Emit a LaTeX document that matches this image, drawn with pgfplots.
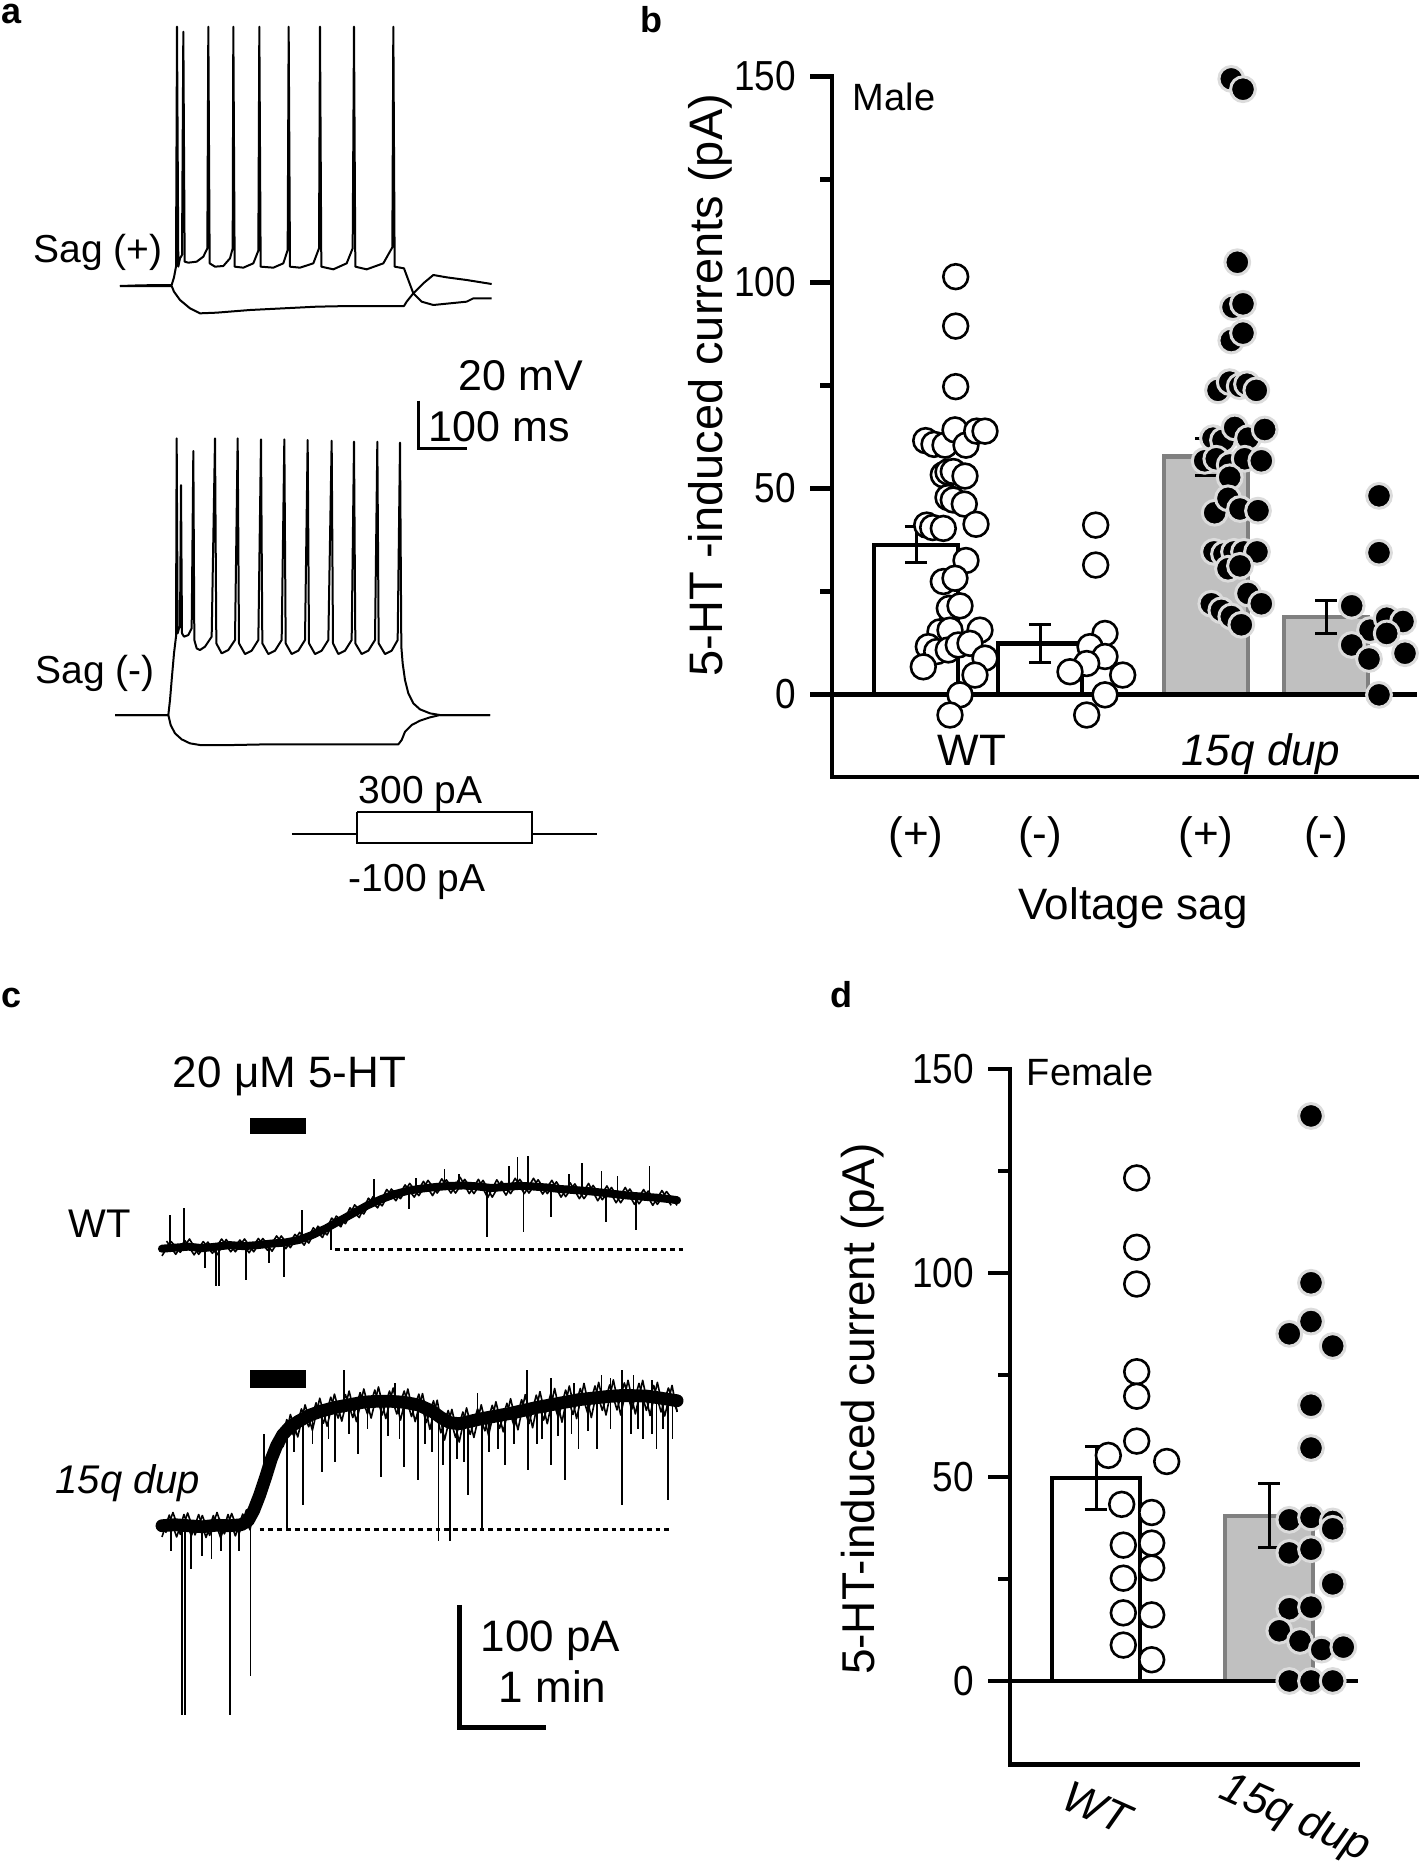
\documentclass[border=0pt]{standalone}
\usepackage{fontspec}
\setmainfont{Liberation Sans}
\usepackage{pgfplots}
\pgfplotsset{compat=1.18}
\definecolor{barg}{HTML}{C0C0C0}
\definecolor{bard}{HTML}{808080}
\definecolor{ring}{HTML}{DCDCDC}
\newcommand{\fsz}[1]{\fontsize{#1}{#1}\selectfont}
\pgfplotsset{
  hid/.style={hide axis, scale only axis, clip=false, y dir=reverse, anchor=north west},
  tr/.style={black, line width=0.5pt, line join=round, mark=none},
  spk/.style={black, line width=0.45pt, mark=none, unbounded coords=jump},
  fuzz/.style={black, line width=0.4pt, mark=none, line join=round},
  dataaxis/.style={scale only axis, clip=false, anchor=south west,
     axis x line*=bottom, axis y line*=left,
     axis line style={line width=1.1pt, line cap=rect},
     xtick=\empty, ytick={0,50,100,150}, minor ytick={25,75,125},
     tick align=outside, major tick length=5.5pt, minor tick length=3pt,
     tick style={black, line width=1.1pt},
     yticklabel style={font=\fsz{10.5}},
     yticklabel={\scalebox{0.88}[1]{\pgfmathprintnumber{\tick}}},
     /pgf/number format/assume math mode=true},
  wtbar/.style={ybar, bar width=84, bar shift=0pt, fill=white, draw=black, line width=1.1pt},
  dupbar/.style={ybar, bar width=84, bar shift=0pt, fill=barg, draw=bard, line width=1.1pt},
  ebar/.style={forget plot, mark=none, draw=none, error bars/.cd, y dir=both, y explicit,
     error bar style={draw=black, line width=0.75pt},
     error mark options={rotate=90, draw=black, mark size=2.75pt, line width=0.75pt}},
  opendot/.style={only marks, mark=*, mark size=3.1pt, mark options={fill=white, draw=black, line width=0.65pt}},
  filldot/.style={only marks, mark=*, mark size=3.1pt, mark options={fill=black, draw=ring, line width=0.75pt}},
}
\begin{document}
\begin{tikzpicture}
\path[use as bounding box] (0pt,0pt) rectangle (354.75pt,-466.75pt);

% ---------------- panel a, Sag(+)
\begin{axis}[hid, at={(0pt,0pt)}, width=130pt, height=82.5pt, xmin=0, xmax=1560, ymin=0, ymax=990]
\addplot[tr] coordinates {(360,858) (420,856) (500,855) (515,855) (522,832) (528,800) (531,80) (535,800) (540,775) (546,765) (550,95) (554,785) (565,788) (590,785) (610,770) (622,745) (625,80) (629,790) (645,800) (670,798) (690,775) (698,745) (700,80) (704,800) (730,803) (760,790) (775,752) (778,80) (782,800) (820,803) (850,790) (863,750) (866,80) (870,800) (900,803) (940,790) (957,745) (960,80) (964,800) (1000,808) (1040,790) (1058,745) (1062,80) (1066,800) (1100,808) (1150,790) (1177,742) (1180,80) (1184,800) (1212,805) (1225,840) (1240,880) (1265,905) (1300,915) (1350,910) (1400,905) (1420,895) (1475,895)};
\addplot[tr] coordinates {(360,858) (515,858) (522,875) (540,900) (570,925) (600,940) (650,938) (750,930) (850,925) (950,920) (1050,918) (1150,918) (1212,918) (1220,905) (1240,880) (1270,850) (1300,825) (1340,832) (1400,840) (1475,852)};
\end{axis}

% ---------------- panel a, Sag(-)
\begin{axis}[hid, at={(0pt,-95pt)}, width=130pt, height=105pt, xmin=0, xmax=1560, ymin=0, ymax=1260]
\addplot[tr] coordinates {(345,1005) (505,1005) (510,960) (515,900) (522,820) (528,770) (530,175) (533,760) (537,745) (540,740) (543,315) (546,760) (552,770) (565,765) (575,745) (580,213) (583,780) (590,805) (600,810) (615,800) (635,770) (645,175) (649,790) (665,820) (685,810) (705,780) (713,175) (717,790) (735,822) (755,812) (775,780) (783,178) (787,790) (805,822) (825,812) (845,780) (853,178) (857,790) (875,822) (895,812) (915,780) (923,180) (927,790) (945,822) (965,812) (985,780) (995,182) (999,790) (1015,822) (1035,812) (1055,780) (1062,185) (1066,790) (1085,822) (1105,812) (1125,780) (1132,185) (1136,790) (1155,822) (1175,812) (1193,780) (1200,188) (1204,800) (1208,850) (1215,900) (1225,940) (1240,970) (1260,988) (1290,1000) (1320,1005) (1470,1005)};
\addplot[tr] coordinates {(345,1005) (505,1005) (512,1035) (525,1060) (545,1078) (570,1090) (600,1095) (700,1095) (800,1093) (900,1093) (1000,1093) (1100,1093) (1195,1093) (1205,1080) (1215,1055) (1235,1035) (1260,1022) (1290,1012) (1320,1005) (1470,1005)};
\addplot[black, line width=0.7pt, mark=none] coordinates {(1255,62) (1255,205) (1400,205)};
\end{axis}

% ---------------- panel c
\begin{axis}[hid, at={(0.125pt,-247.5pt)}, width=180pt, height=200pt, xmin=0, xmax=1569.6, ymin=0, ymax=1568]
\addplot[fill=black, draw=none, mark=none] coordinates {(545,250) (665,250) (665,283) (545,283)};
\addplot[fill=black, draw=none, mark=none] coordinates {(545,745) (665,745) (665,780) (545,780)};
\addplot[black, line width=0.7pt, dash pattern=on 1.2pt off 1pt, mark=none] coordinates {(730,508) (1495,508)};
\addplot[black, line width=0.7pt, dash pattern=on 1.2pt off 1pt, mark=none] coordinates {(565,1057) (1465,1057)};
% WT band
\addplot[black, line width=2pt, line join=round, line cap=round, mark=none] coordinates {(352,507) (380,505) (410,503) (440,506) (470,503) (500,500) (530,502) (560,500) (590,497) (620,495) (650,490) (680,480) (710,467) (740,452) (770,437) (800,422) (830,410) (860,400) (890,393) (920,389) (950,386) (980,384) (1010,383) (1040,385) (1070,388) (1100,386) (1130,384) (1160,385) (1190,387) (1220,390) (1250,392) (1280,394) (1310,397) (1340,400) (1370,403) (1400,405) (1430,407) (1460,410) (1475,412)};
\addplot[fuzz] coordinates {(352,521) (372,493) (392,514) (412,488) (432,518) (452,494) (472,519) (492,489) (512,513) (532,488) (552,513) (572,487) (592,512) (612,482) (632,505) (652,475) (672,496) (692,463) (712,480) (732,443) (752,458) (772,421) (792,439) (812,405) (832,423) (852,390) (872,409) (892,379) (912,403) (932,373) (952,398) (972,372) (992,398) (1012,371) (1032,399) (1052,373) (1072,406) (1092,375) (1112,399) (1132,371) (1152,398) (1172,372) (1192,399) (1212,376) (1232,405) (1252,380) (1272,409) (1292,383) (1312,411) (1332,387) (1352,417) (1372,390) (1392,419) (1412,394) (1432,420) (1452,395) (1475,422)};
\addplot[fuzz] coordinates {(362,492) (382,518) (402,491) (422,519) (442,493) (462,516) (482,488) (502,513) (522,490) (542,515) (562,487) (582,510) (602,482) (622,507) (642,479) (662,500) (682,466) (702,485) (722,447) (742,464) (762,427) (782,446) (802,408) (822,427) (842,391) (862,413) (882,382) (902,406) (922,375) (942,403) (962,370) (982,398) (1002,367) (1022,399) (1042,371) (1062,407) (1082,372) (1102,402) (1122,369) (1142,399) (1162,369) (1182,400) (1202,373) (1222,406) (1242,378) (1262,409) (1282,379) (1302,413) (1322,384) (1342,417) (1362,387) (1382,420) (1402,391) (1422,422) (1442,393) (1462,422)};
\addplot[spk] coordinates {(370,505) (370,440) (370,nan) (400,503) (400,428) (400,nan) (658,488) (658,432) (658,nan) (815,416) (815,370) (815,nan) (905,391) (905,368) (905,nan) (968,385) (968,350) (968,nan) (1000,384) (1000,360) (1000,nan) (1108,386) (1108,345) (1108,nan) (1127,384) (1127,328) (1127,nan) (1150,385) (1150,325) (1150,nan) (1240,392) (1240,360) (1240,nan) (1267,393) (1267,340) (1267,nan) (1310,397) (1310,355) (1310,nan) (1345,400) (1345,365) (1345,nan) (1415,406) (1415,345) (1415,nan)
(445,505) (445,545) (445,nan) (470,503) (470,580) (470,nan) (476,503) (476,580) (476,nan) (535,502) (535,568) (535,nan) (585,498) (585,535) (585,nan) (618,495) (618,562) (618,nan) (720,462) (720,510) (720,nan) (890,393) (890,430) (890,nan) (1060,387) (1060,485) (1060,nan) (1140,384) (1140,475) (1140,nan) (1200,388) (1200,445) (1200,nan) (1320,398) (1320,455) (1320,nan) (1385,404) (1385,470) (1385,nan)};
% 15q band
\addplot[black, line width=3.2pt, line join=round, line cap=round, mark=none] coordinates {(352,1050) (380,1048) (410,1050) (440,1052) (470,1049) (500,1050) (525,1048) (540,1040) (552,1020) (565,990) (578,955) (590,920) (602,893) (615,872) (630,857) (650,845) (675,833) (700,825) (730,818) (760,813) (790,808) (820,806) (850,806) (880,808) (910,813) (940,825) (960,838) (980,848) (1000,850) (1020,846) (1050,840) (1080,835) (1110,830) (1140,824) (1170,818) (1200,813) (1230,808) (1260,803) (1290,800) (1320,797) (1350,795) (1380,795) (1410,796) (1440,800) (1475,805)};
\addplot[fuzz] coordinates {(352,1072) (368,1029) (384,1072) (400,1028) (416,1070) (432,1028) (448,1073) (464,1030) (480,1074) (496,1028) (512,1070) (528,1027) (544,1058) (560,982) (576,982) (592,895) (608,906) (624,842) (640,875) (656,821) (672,856) (688,809) (704,849) (720,798) (736,839) (752,793) (768,838) (784,789) (800,831) (816,784) (832,833) (848,786) (864,831) (880,786) (896,836) (912,792) (928,848) (944,805) (960,868) (976,824) (992,877) (1008,827) (1024,871) (1040,821) (1056,864) (1072,814) (1088,859) (1104,810) (1120,855) (1136,803) (1152,850) (1168,794) (1184,843) (1200,790) (1216,838) (1232,784) (1248,832) (1264,781) (1280,829) (1296,776) (1312,824) (1328,774) (1344,823) (1360,770) (1376,822) (1392,771) (1408,824) (1424,775) (1440,827) (1456,780) (1475,825)};
\addplot[fuzz] coordinates {(360,1064) (376,1024) (392,1067) (408,1025) (424,1068) (440,1030) (456,1069) (472,1024) (488,1066) (504,1026) (520,1066) (536,1019) (552,1040) (568,960) (584,960) (600,877) (616,895) (632,832) (648,876) (664,813) (680,863) (696,800) (712,855) (728,792) (744,845) (760,786) (776,846) (792,782) (808,839) (824,778) (840,840) (856,780) (872,843) (888,782) (904,846) (920,791) (936,861) (952,804) (968,882) (984,822) (1000,886) (1016,819) (1032,877) (1048,813) (1064,873) (1080,807) (1096,866) (1112,801) (1128,862) (1144,793) (1160,858) (1176,787) (1192,850) (1208,781) (1224,847) (1240,776) (1256,840) (1272,771) (1288,838) (1304,769) (1320,833) (1336,764) (1352,833) (1368,765) (1384,831) (1400,765) (1416,834) (1432,769) (1448,835) (1464,775) (1475,827)};
\addplot[spk] coordinates {(372,1048) (372,1100) (372,nan) (395,1049) (395,1420) (395,nan) (402,1049) (402,1420) (402,nan) (415,1050) (415,1135) (415,nan) (440,1052) (440,1110) (440,nan) (460,1050) (460,1115) (460,nan) (480,1049) (480,1100) (480,nan) (500,1050) (500,1420) (500,nan) (520,1048) (520,1100) (520,nan) (545,1036) (545,1345) (545,nan) (625,860) (625,1060) (625,nan) (660,840) (660,1010) (660,nan) (700,825) (700,945) (700,nan) (730,818) (730,925) (730,nan) (780,810) (780,910) (780,nan) (830,806) (830,955) (830,nan) (880,808) (880,935) (880,nan) (910,813) (910,960) (910,nan) (955,835) (955,1080) (955,nan) (980,848) (980,1080) (980,nan) (1020,846) (1020,990) (1020,nan) (1050,840) (1050,1055) (1050,nan) (1100,831) (1100,930) (1100,nan) (1150,823) (1150,940) (1150,nan) (1200,813) (1200,930) (1200,nan) (1230,808) (1230,960) (1230,nan) (1260,803) (1260,900) (1260,nan) (1300,800) (1300,900) (1300,nan) (1355,795) (1355,1010) (1355,nan) (1400,796) (1400,880) (1400,nan) (1430,799) (1430,900) (1430,nan) (1455,802) (1455,1000) (1455,nan)
(640,850) (640,905) (640,nan) (680,831) (680,890) (680,nan) (715,821) (715,880) (715,nan) (760,813) (760,870) (760,nan) (800,807) (800,860) (800,nan) (845,806) (845,875) (845,nan) (870,807) (870,880) (870,nan) (925,818) (925,890) (925,nan) (940,825) (940,905) (940,nan) (965,840) (965,930) (965,nan) (995,850) (995,920) (995,nan) (1010,848) (1010,925) (1010,nan) (1065,837) (1065,905) (1065,nan) (1085,834) (1085,900) (1085,nan) (1120,828) (1120,890) (1120,nan) (1170,818) (1170,890) (1170,nan) (1180,816) (1180,880) (1180,nan) (1215,811) (1215,875) (1215,nan) (1245,805) (1245,870) (1245,nan) (1280,801) (1280,865) (1280,nan) (1330,796) (1330,860) (1330,nan) (1375,795) (1375,870) (1375,nan) (1390,795) (1390,860) (1390,nan) (1420,798) (1420,870) (1420,nan) (1445,801) (1445,860) (1445,nan) (1465,803) (1465,880) (1465,nan)
(575,960) (575,870) (575,nan) (748,815) (748,745) (748,nan) (860,807) (860,770) (860,nan) (1040,842) (1040,790) (1040,nan) (1148,823) (1148,745) (1148,nan) (1200,813) (1200,760) (1200,nan) (1250,805) (1250,770) (1250,nan) (1310,797) (1310,755) (1310,nan) (1330,796) (1330,760) (1330,nan) (1355,795) (1355,745) (1355,nan) (1380,795) (1380,755) (1380,nan) (1420,798) (1420,765) (1420,nan)};
\addplot[black, line width=1.2pt, mark=none] coordinates {(1000,1205) (1000,1445) (1190,1445)};
\end{axis}

% ---------------- panel b
\begin{axis}[dataaxis, at={(208pt,-194.2pt)}, width=146.75pt, height=175.1pt,
   xmin=832, xmax=1419, ymin=-20, ymax=150]
\addplot[wtbar] coordinates {(916,36.3) (1040,12.4)};
\addplot[dupbar] coordinates {(1206,57.7) (1326,18.8)};
\addplot[black, line width=1.1pt, mark=none] coordinates {(832,0) (1417,0)};
\addplot[ebar] coordinates {(916,36.3) +- (0,4.4) (1040,12.4) +- (0,4.6) (1206,57.7) +- (0,4.5) (1326,18.8) +- (0,3.9)};
\addplot[opendot] coordinates {(955.7,101.4) (955.7,89.4) (955.7,74.7) (925.7,61.6) (934,60.7) (945,60.5) (955,64.2) (966,60.5) (976.7,63.9) (985,63.9) (943.3,53.3) (948,54) (953.3,54.1) (965,53.0) (948,47.8) (953.3,47.2) (964.3,46.2) (926.7,41.1) (932.7,40.5) (943.3,40.3) (976,41.3) (966,32.5) (943.3,27.4) (955,28.2) (949.3,20.9) (960,21.5) (940,15.2) (950,15.6) (980,15.6) (928.3,11.6) (936.7,10.4) (948.3,10.8) (958.3,12) (970,12.4) (985,8.8) (923.3,6.7) (975,4.7) (960,-0.1) (950,-5.0)
(1095.7,41.1) (1095.7,31.4) (1105,14.8) (1090,11.6) (1105,9.2) (1086.7,7.5) (1070,5.5) (1122.7,4.7) (1105,-0.1) (1086.7,-5.0)};
\addplot[filldot] coordinates {(1231.3,149.4) (1243,146.9) (1237.3,104.9) (1233,94.0) (1243,94.8) (1231.3,85.9) (1243,87.7) (1218,73.8) (1229.7,75.8) (1239.7,74.8) (1247,75.3) (1256.3,73.8) (1213,62.2) (1223,61.7) (1234.7,64.8) (1248,62.2) (1264.7,64.3) (1204.7,56.7) (1216.3,57.2) (1229.7,55.7) (1244.7,57.2) (1261.3,56.7) (1229.7,52.7) (1214.7,44.1) (1228,47.6) (1240,45.0) (1258,44.6) (1214,34.6) (1224,34.1) (1234,34.6) (1244,34.6) (1257,34.6) (1228,30.5) (1240,31.2) (1248,24.5) (1261.3,22.0) (1211.3,22.0) (1221.3,20.4) (1231.3,18.9) (1241.3,16.9)
(1379,48.2) (1379,34.4) (1351.7,21.5) (1370,15.6) (1386.7,18.5) (1403,17.7) (1386.7,14.8) (1351.7,12.0) (1369,8.6) (1405,10.0) (1379,-0.1)};
\end{axis}

% ---------------- panel d
\begin{axis}[dataaxis, at={(252.5pt,-441.15pt)}, width=87pt, height=173.9pt,
   xmin=1010, xmax=1358, ymin=-20.5, ymax=150]
\addplot[wtbar, bar width=88] coordinates {(1096,49.8)};
\addplot[dupbar, bar width=88] coordinates {(1269,40.5)};
\addplot[black, line width=1.1pt, mark=none] coordinates {(1010,0) (1358,0)};
\addplot[ebar] coordinates {(1096,49.8) +- (0,7.7) (1269,40.5) +- (0,7.8)};
\addplot[opendot] coordinates {(1136.7,123.3) (1136.7,106.3) (1136.7,97.3) (1136.7,75.8) (1136.7,69.8) (1136.7,58.8) (1108.3,55.3) (1166.7,53.8) (1121.7,43.3) (1151.7,41.3) (1123.3,33.3) (1151.7,33.8) (1123.3,25.2) (1151.7,27.7) (1123.3,16.7) (1151.7,16.2) (1123.3,8.8) (1151.7,5.2)};
\addplot[filldot] coordinates {(1311,138.5) (1311,97.6) (1311,88.1) (1289.3,85.1) (1332.7,82.1) (1311,67.6) (1311,57.1) (1289.3,39.5) (1311,40.1) (1332.7,39.1) (1332.7,37.3) (1289.3,31.4) (1311,32.3) (1332.7,23.8) (1289.3,17.7) (1311,18.1) (1279.3,12.3) (1300,9.8) (1321.7,7.7) (1343.3,8.3) (1289.3,0) (1311,0) (1332.7,0)};
\end{axis}

% ---------------- annotations in pixel frame
\begin{axis}[hid, at={(0pt,0pt)}, width=354.75pt, height=466.75pt, xmin=0, xmax=1419, ymin=0, ymax=1867]
\addplot[black, line width=0.45pt, mark=none] coordinates {(292,834) (357,834)};
\addplot[black, line width=0.45pt, mark=none] coordinates {(357,812) (532,812) (532,843) (357,843) (357,812)};
\addplot[black, line width=0.45pt, mark=none] coordinates {(532,834) (597,834)};
% panel letters
\node[anchor=base west, font=\fsz{9}\bfseries, inner sep=0pt] at (axis cs:1,23) {a};
\node[anchor=base west, font=\fsz{9}\bfseries, inner sep=0pt] at (axis cs:640,32) {b};
\node[anchor=base west, font=\fsz{9}\bfseries, inner sep=0pt] at (axis cs:1,1007) {c};
\node[anchor=base west, font=\fsz{9}\bfseries, inner sep=0pt] at (axis cs:830,1007) {d};
% panel a text
\node[anchor=base west, font=\fsz{9.75}, inner sep=0pt] at (axis cs:33,262) {Sag (+)};
\node[anchor=base west, font=\fsz{9.75}, inner sep=0pt] at (axis cs:35,683) {Sag (-)};
\node[anchor=base west, font=\fsz{10.75}, inner sep=0pt] at (axis cs:458,390) {20 mV};
\node[anchor=base west, font=\fsz{10.75}, inner sep=0pt] at (axis cs:428,441) {100 ms};
\node[anchor=base west, font=\fsz{9.75}, inner sep=0pt] at (axis cs:358,803) {300 pA};
\node[anchor=base west, font=\fsz{9.75}, inner sep=0pt] at (axis cs:348,891) {-100 pA};
% panel c text
\node[anchor=base, font=\fsz{11}, inner sep=0pt] at (axis cs:289.5,1087) {20 μM 5-HT};
\node[anchor=base, font=\fsz{10}, inner sep=0pt] at (axis cs:100,1237) {WT};
\node[anchor=base, font=\fsz{10}\itshape, inner sep=0pt] at (axis cs:128,1493) {15q dup};
\node[anchor=base west, font=\fsz{11}, inner sep=0pt] at (axis cs:480,1651) {100 pA};
\node[anchor=base west, font=\fsz{11}, inner sep=0pt] at (axis cs:498,1702) {1 min};
% panel b text
\node[anchor=base west, font=\fsz{9.5}, inner sep=0pt] at (axis cs:852,110) {Male};
\node[anchor=base, font=\fsz{11}, inner sep=0pt] at (axis cs:972,765) {WT};
\node[anchor=base, font=\fsz{11}\itshape, inner sep=0pt] at (axis cs:1261,765) {15q dup};
\node[anchor=center, font=\fsz{11}, inner sep=0pt] at (axis cs:916,837) {(+)};
\node[anchor=center, font=\fsz{11}, inner sep=0pt] at (axis cs:1040,837) {(-)};
\node[anchor=center, font=\fsz{11}, inner sep=0pt] at (axis cs:1206,837) {(+)};
\node[anchor=center, font=\fsz{11}, inner sep=0pt] at (axis cs:1326,837) {(-)};
\node[anchor=center, font=\fsz{11}, inner sep=0pt] at (axis cs:1133,908) {Voltage sag};
\node[anchor=center, rotate=90, font=\fsz{11.75}, inner sep=0pt] at (axis cs:710,385) {5-HT -induced currents (pA)};
% panel d text
\node[anchor=base west, font=\fsz{9.5}, inner sep=0pt] at (axis cs:1026,1085) {Female};
\node[anchor=center, rotate=90, font=\fsz{11.5}, inner sep=0pt] at (axis cs:863,1409) {5-HT-induced current (pA)};
\node[anchor=center, rotate=-24, font=\fsz{11}\itshape, inner sep=0pt] at (axis cs:1097,1808) {WT};
\node[anchor=center, rotate=-24, font=\fsz{11}\itshape, inner sep=0pt] at (axis cs:1295,1819) {15q dup};
\end{axis}
\end{tikzpicture}
\end{document}
